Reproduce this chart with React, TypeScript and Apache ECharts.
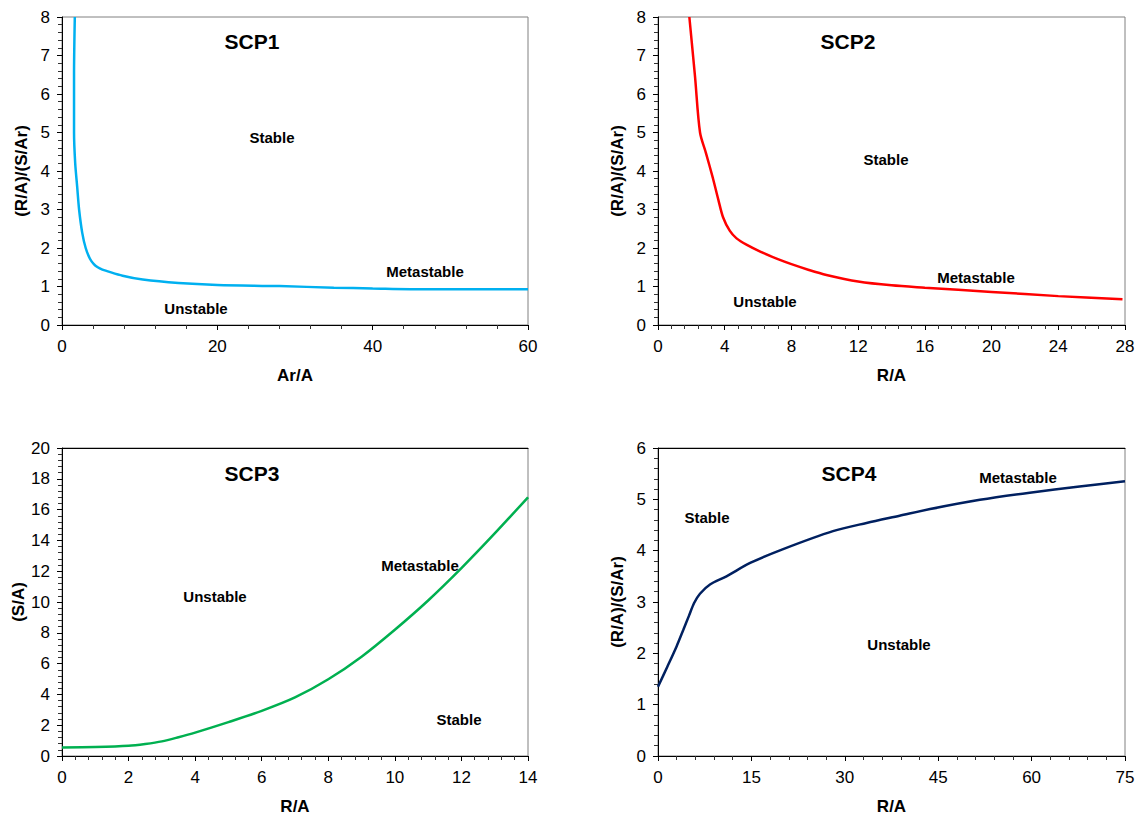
import React, { useEffect, useRef } from "react";
import * as echarts from "echarts";

const scp1X = [1.65, 1.55, 1.55, 1.7, 1.95, 2.2, 2.6, 3.05, 3.6, 4.1, 4.6, 5.2, 5.8, 7.8, 10.4, 15, 20, 28, 35, 40, 47, 60];
const scp1Y = [8, 6.5, 5, 4.2, 3.6, 3.0, 2.4, 2.0, 1.72, 1.58, 1.5, 1.44, 1.4, 1.28, 1.18, 1.09, 1.04, 1.01, 0.97, 0.95, 0.93, 0.93];

const scp2X = [1.88, 2.22, 2.52, 2.88, 3.3, 3.62, 3.9, 4.3, 4.71, 5.33, 6.16, 7.19, 8.0, 9.05, 10.1, 12, 14, 16, 20, 24, 27.85];
const scp2Y = [8, 6.45, 5.0, 4.46, 3.8, 3.25, 2.8, 2.45, 2.25, 2.08, 1.9, 1.71, 1.58, 1.43, 1.3, 1.13, 1.03, 0.97, 0.86, 0.75, 0.67];

const scp3X = [0, 1, 2, 2.5, 3, 3.5, 4, 5, 6, 7, 8, 9, 10, 11, 12, 13, 14];
const scp3Y = [0.55, 0.58, 0.66, 0.78, 0.95, 1.22, 1.52, 2.2, 2.93, 3.8, 4.98, 6.45, 8.2, 10.1, 12.2, 14.45, 16.8];

const scp4X = [0, 1.5, 3, 4.04, 5, 5.8, 6.74, 8.35, 11, 14.8, 20.1, 28.1, 33.5, 38.8, 43.7, 51.7, 59.7, 67.7, 75];
const scp4Y = [1.35, 1.74, 2.14, 2.45, 2.74, 2.98, 3.16, 3.34, 3.5, 3.76, 4.03, 4.38, 4.54, 4.68, 4.81, 4.99, 5.13, 5.25, 5.35];

const titles = ["SCP1", "SCP2", "SCP3", "SCP4"];
const xNames = ["Ar/A", "R/A", "R/A", "R/A"];
const yNames = ["(R/A)/(S/Ar)", "(R/A)/(S/Ar)", "(S/A)", "(R/A)/(S/Ar)"];
const xMax = [60, 28, 14, 75];
const xStep = [20, 4, 2, 15];
const yMax = [8, 8, 20, 6];
const yStep = [1, 1, 2, 1];
const colors = ["#00B0F0", "#FF0000", "#00B050", "#002060"];

// region annotations: [panel, text, x px, y px]
const notes: [number, string, number, number][] = [
  [0, "Stable", 272, 137],
  [0, "Metastable", 425, 271],
  [0, "Unstable", 196, 308],
  [1, "Stable", 886, 159],
  [1, "Metastable", 976, 277],
  [1, "Unstable", 765, 301],
  [2, "Unstable", 215, 596],
  [2, "Metastable", 420, 565],
  [2, "Stable", 459, 719],
  [3, "Stable", 707, 517],
  [3, "Metastable", 1018, 477],
  [3, "Unstable", 899, 644],
];
const titlePos: [number, number][] = [
  [252, 41],
  [848, 41],
  [252, 473],
  [849, 473],
];

const grids = [
  { left: 62, top: 17, width: 466, height: 308 },
  { left: 658, top: 17, width: 467, height: 308 },
  { left: 62, top: 448, width: 466, height: 308 },
  { left: 658, top: 448, width: 467, height: 308 },
];

const FONT = "'Liberation Sans', Arial, sans-serif";

export default function App() {
  const ref = useRef<HTMLDivElement>(null);
  useEffect(() => {
    if (!ref.current) return;
    const chart = echarts.init(ref.current, null, { renderer: "svg" });
    const datasets = [
      scp1X.map((x, i) => [x, scp1Y[i]]),
      scp2X.map((x, i) => [x, scp2Y[i]]),
      scp3X.map((x, i) => [x, scp3Y[i]]),
      scp4X.map((x, i) => [x, scp4Y[i]]),
    ];
    const xAxes: any[] = [];
    const yAxes: any[] = [];
    for (let i = 0; i < 4; i++) {
      xAxes.push({
        type: "value",
        gridIndex: i,
        min: 0,
        max: xMax[i],
        interval: xStep[i],
        name: xNames[i],
        nameLocation: "middle",
        nameGap: 42,
        nameTextStyle: { fontFamily: FONT, fontSize: 17, fontWeight: "bold", color: "#000" },
        axisLine: { show: true, onZero: false, lineStyle: { color: "#000", width: 1 } },
        axisTick: { show: true, length: 5, lineStyle: { color: "#000", width: 1 } },
        minorTick: { show: true, splitNumber: 5, length: 4, lineStyle: { color: "#333", width: 1 } },
        splitLine: { show: false },
        axisLabel: { fontFamily: FONT, fontSize: 17, color: "#000", margin: 13 },
      });
      yAxes.push({
        type: "value",
        gridIndex: i,
        min: 0,
        max: yMax[i],
        interval: yStep[i],
        name: yNames[i],
        nameLocation: "middle",
        nameGap: 32,
        nameTextStyle: { fontFamily: FONT, fontSize: 17, fontWeight: "bold", color: "#000" },
        axisLine: { show: true, onZero: false, lineStyle: { color: "#000", width: 1 } },
        axisTick: { show: true, length: 5, lineStyle: { color: "#000", width: 1 } },
        minorTick: { show: true, splitNumber: 5, length: 4, lineStyle: { color: "#333", width: 1 } },
        splitLine: { show: false },
        axisLabel: { fontFamily: FONT, fontSize: 17, color: "#000", margin: 12 },
      });
    }
    // black top frame for the lower panels
    for (let i = 2; i < 4; i++) {
      xAxes.push({
        type: "value",
        gridIndex: i,
        position: "top",
        min: 0,
        max: xMax[i],
        axisLine: { show: true, onZero: false, lineStyle: { color: "#000", width: 1 } },
        axisTick: { show: false },
        axisLabel: { show: false },
        splitLine: { show: false },
      });
    }
    const graphic: any[] = [];
    titles.forEach((t, i) => {
      graphic.push({
        type: "text",
        x: titlePos[i][0],
        y: titlePos[i][1],
        style: { text: t, fontFamily: FONT, fontSize: 21, fontWeight: "bold", fill: "#000", align: "center", verticalAlign: "middle" },
        z: 10,
      });
    });
    notes.forEach(([, t, x, y]) => {
      graphic.push({
        type: "text",
        x,
        y,
        style: { text: t, fontFamily: FONT, fontSize: 15, fontWeight: "bold", fill: "#000", align: "center", verticalAlign: "middle" },
        z: 10,
      });
    });
    chart.setOption({
      animation: false,
      backgroundColor: "#fff",
      grid: grids.map((g) => ({ ...g, show: true, borderColor: "#808080", borderWidth: 1, backgroundColor: "transparent" })),
      xAxis: xAxes,
      yAxis: yAxes,
      series: datasets.map((d, i) => ({
        type: "line",
        xAxisIndex: i,
        yAxisIndex: i,
        data: d,
        showSymbol: false,
        smooth: 0.3,
        lineStyle: { color: colors[i], width: 2.5 },
        itemStyle: { color: colors[i] },
        clip: true,
        z: 5,
      })),
      graphic,
    });
    return () => chart.dispose();
  }, []);
  return <div ref={ref} style={{ position: "fixed", left: 0, top: 0, width: 1138, height: 816, background: "#fff" }} />;
}
